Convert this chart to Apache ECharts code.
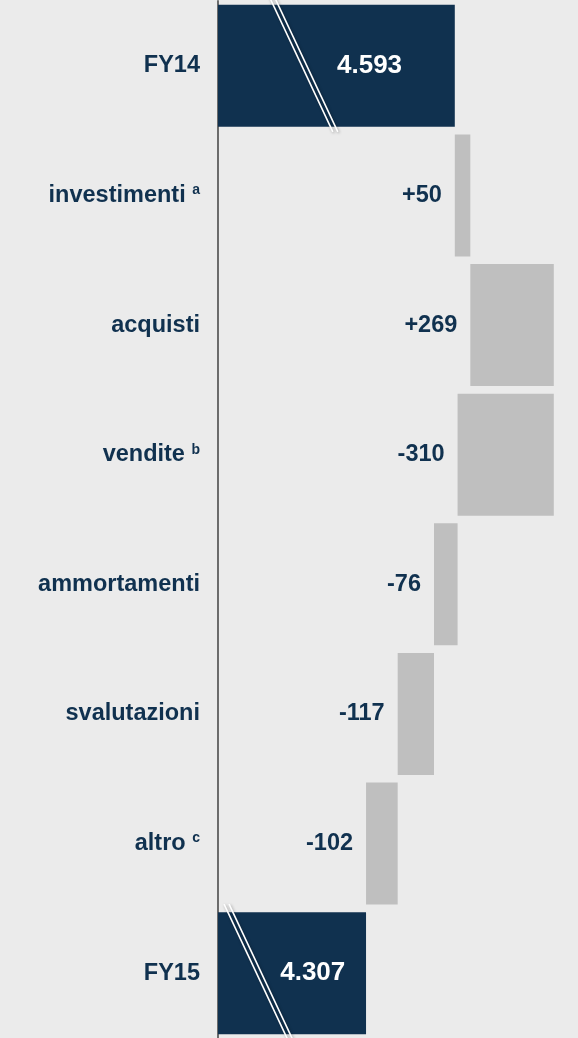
<!DOCTYPE html>
<html>
<head>
<meta charset="utf-8">
<script src="https://cdn.jsdelivr.net/npm/echarts@6/dist/echarts.min.js"></script>
<style>
  html, body { margin: 0; padding: 0; background: #ebebeb; }
  #main { width: 578px; height: 1038px; }
</style>
</head>
<body>
<div id="main"></div>
<script>
// dati del ponte FY14 -> FY15
var categories = ['FY14', 'investimenti', 'acquisti', 'vendite', 'ammortamenti', 'svalutazioni', 'altro', 'FY15']
var notes = ['', 'a', '', 'b', '', '', 'c', '']
var values = [4593, 50, 269, -310, -76, -117, -102, 4307]
var isTotal = [true, false, false, false, false, false, false, true]

var NAVY = '#10314f'
var GREY = '#bfbfbf'
var AXIS_MIN = 3830
var AXIS_MAX = 4990

// base trasparente + barra visibile (waterfall)
var baseData = []
var barData = []
var running = 0
values.forEach(function (v, i) {
  if (isTotal[i]) {
    running = v
    baseData.push(0)
    barData.push({ value: v, itemStyle: { color: NAVY } })
  } else {
    var next = running + v
    baseData.push(Math.min(running, next))
    barData.push({ value: Math.abs(v), itemStyle: { color: GREY } })
    running = next
  }
})

// segni di interruzione asse sulle barre dei totali
var breakData = []
values.forEach(function (v, i) {
  if (isTotal[i]) breakData.push([v, i])
})

function fmtNum (v) {
  return String(v).replace(/\B(?=(\d{3})+(?!\d))/g, '.')
}

var font = '"Liberation Sans", Arial, sans-serif'

var option = {
  backgroundColor: '#ebebeb',
  animation: false,
  grid: { left: 218, right: 0, top: 1, height: 1045 },
  xAxis: {
    type: 'value',
    min: AXIS_MIN,
    max: AXIS_MAX,
    show: false
  },
  yAxis: {
    type: 'category',
    inverse: true,
    data: categories,
    axisTick: { show: false },
    axisLine: { show: true, lineStyle: { color: '#5e5e5e', width: 1.8 } },
    axisLabel: {
      margin: 18,
      color: NAVY,
      fontFamily: font,
      fontWeight: 'bold',
      fontSize: 23.5,
      formatter: function (value, idx) {
        return notes[idx] ? value + ' {sup|' + notes[idx] + '}' : value
      },
      rich: {
        sup: {
          fontSize: 14,
          fontWeight: 'bold',
          fontFamily: font,
          color: NAVY,
          verticalAlign: 'top',
          lineHeight: 14
        }
      }
    }
  },
  series: [
    {
      name: 'base',
      type: 'bar',
      stack: 'w',
      barWidth: 122,
      itemStyle: { color: 'transparent' },
      emphasis: { disabled: true },
      data: baseData
    },
    {
      name: 'valore',
      type: 'bar',
      stack: 'w',
      barWidth: 122,
      data: barData.map(function (d, i) {
        if (isTotal[i]) {
          d.label = {
            show: true,
            position: ['64%', '50%'],
            align: 'center',
            verticalAlign: 'middle',
            color: '#ffffff',
            fontSize: 26,
            fontWeight: 'bold',
            fontFamily: font,
            formatter: function () { return fmtNum(values[i]) }
          }
        } else {
          d.label = {
            show: true,
            position: 'left',
            distance: 13,
            color: NAVY,
            fontSize: 23.5,
            fontWeight: 'bold',
            fontFamily: font,
            formatter: function () {
              return (values[i] > 0 ? '+' : '') + values[i]
            }
          }
        }
        return d
      })
    },
    {
      name: 'interruzione',
      type: 'custom',
      clip: false,
      silent: true,
      z: 5,
      data: breakData,
      renderItem: function (params, api) {
        var idx = api.value(1)
        var p0 = api.coord([AXIS_MIN, idx])
        var p1 = api.coord([api.value(0), idx])
        var frac = idx === 0 ? 0.354 : 0.26
        var cx = p0[0] + (p1[0] - p0[0]) * frac
        var cy = p0[1]
        var up = 69, down = 66, slope = 0.47
        var lines = [0, 5].map(function (off) {
          return {
            type: 'line',
            shape: {
              x1: cx + off - up * slope,
              y1: cy - up,
              x2: cx + off + down * slope,
              y2: cy + down
            },
            style: {
              stroke: '#ffffff',
              lineWidth: 1.6,
              shadowColor: 'rgba(0,0,0,0.35)',
              shadowBlur: 3,
              shadowOffsetX: 1,
              shadowOffsetY: 1
            }
          }
        })
        return { type: 'group', children: lines }
      }
    }
  ]
}

var myChart = echarts.init(document.getElementById('main'))
myChart.setOption(option)
</script>
</body>
</html>
